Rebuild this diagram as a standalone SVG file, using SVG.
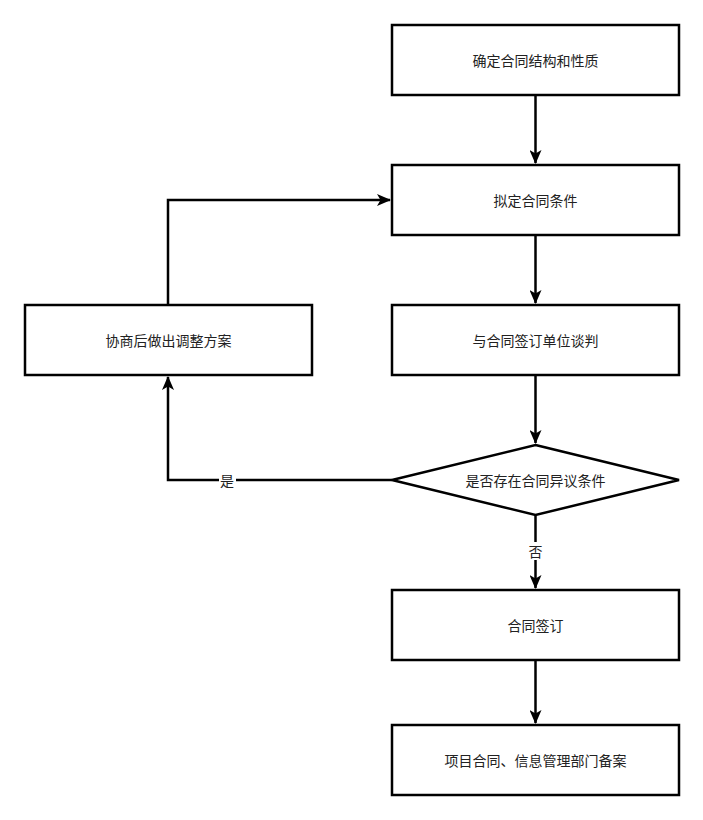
<svg xmlns="http://www.w3.org/2000/svg" width="703" height="820" viewBox="0 0 703 820">
<style>
.box{fill:#fff;stroke:#000;stroke-width:2.5}
.t{font-family:"Noto Sans CJK SC","Noto Sans",sans-serif;font-size:14px;fill:#222;text-anchor:middle;dominant-baseline:central}
.c{fill:none;stroke:#000;stroke-width:2.5}
.lbl{font-family:"Noto Sans CJK SC","Noto Sans",sans-serif;font-size:14px;fill:#222;text-anchor:middle;dominant-baseline:central}
</style>
<defs>
<marker id="a" viewBox="0 0 14 12" refX="13" refY="6" markerWidth="14" markerHeight="12" markerUnits="userSpaceOnUse" orient="auto">
<path d="M0,0 L14,6 L0,12 L3.5,6 Z" fill="#000"/>
</marker>
</defs>
<rect width="703" height="820" fill="#fff"/>
<g id="connectors">
<path class="c" d="M535.5,95 V163" marker-end="url(#a)"/>
<path class="c" d="M535.5,235 V303" marker-end="url(#a)"/>
<path class="c" d="M535.5,375 V443" marker-end="url(#a)"/>
<path class="c" d="M535.5,515 V588" marker-end="url(#a)"/>
<path class="c" d="M535.5,660 V723" marker-end="url(#a)"/>
<path class="c" d="M168,305 V200 H390" marker-end="url(#a)"/>
<path class="c" d="M392,480 H168 V377" marker-end="url(#a)"/>
<rect x="219" y="471" width="17" height="18" fill="#fff"/>
<text class="lbl" x="227" y="480">是</text>
<rect x="527" y="542" width="17" height="18" fill="#fff"/>
<text class="lbl" x="535.5" y="551">否</text>
</g>
<g id="n1"><rect class="box" x="392" y="25" width="287" height="70"/><text class="t" x="535.5" y="60">确定合同结构和性质</text></g>
<g id="n2"><rect class="box" x="392" y="165" width="287" height="70"/><text class="t" x="535.5" y="200">拟定合同条件</text></g>
<g id="n3"><rect class="box" x="392" y="305" width="287" height="70"/><text class="t" x="535.5" y="340">与合同签订单位谈判</text></g>
<g id="n4"><rect class="box" x="25" y="305" width="287" height="70"/><text class="t" x="168.5" y="340">协商后做出调整方案</text></g>
<g id="n5"><path class="box" d="M535.5,445 L679,480 L535.5,515 L392,480 Z"/><text class="t" x="535.5" y="480">是否存在合同异议条件</text></g>
<g id="n6"><rect class="box" x="392" y="590" width="287" height="70"/><text class="t" x="535.5" y="625">合同签订</text></g>
<g id="n7"><rect class="box" x="392" y="725" width="287" height="70"/><text class="t" x="535.5" y="760">项目合同、信息管理部门备案</text></g>
</svg>
